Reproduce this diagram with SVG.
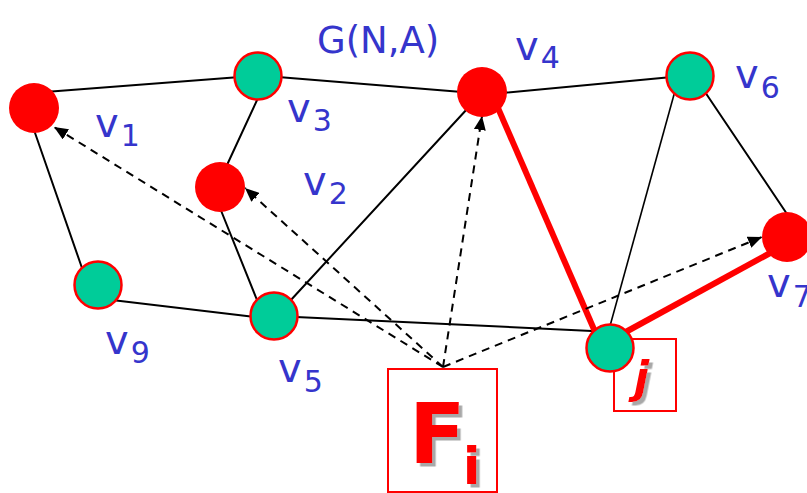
<svg xmlns="http://www.w3.org/2000/svg" width="807" height="493" viewBox="0 0 807 493">
<style>
.e{stroke:#000;stroke-width:2;fill:none;stroke-linecap:round}
.t{stroke:#000;stroke-width:1.6;fill:none}
.r{stroke:#FF0000;stroke-width:6;fill:none}
.d{stroke:#000;stroke-width:2;fill:none;stroke-dasharray:8 6}
.red{fill:#FF0000}
.grn{fill:#00CC99;stroke:#FF0000;stroke-width:2.5}
.lbl{font-family:"DejaVu Sans",Verdana,sans-serif;fill:#3535CC;font-size:40px}
.sub{font-size:30px}
.big{font-family:"DejaVu Sans",Verdana,sans-serif;fill:#FF0000;font-weight:bold}
.box{fill:none;stroke:#FF0000;stroke-width:2}
</style>
<defs>
<marker id="ah" viewBox="0 0 14 12" refX="14" refY="6" markerWidth="14" markerHeight="12" markerUnits="userSpaceOnUse" orient="auto">
<path d="M0,0 L14,6 L0,12 z" fill="#000"/>
</marker>
<filter id="sh" x="-30%" y="-30%" width="170%" height="170%">
<feDropShadow dx="3.5" dy="3.5" stdDeviation="0.6" flood-color="#A8A8A8" flood-opacity="1"/>
</filter>
</defs>
<g id="connectors">
<line class="e" x1="45" y1="92" x2="240" y2="77"/>
<line class="e" x1="278" y1="77" x2="462" y2="92"/>
<line class="e" x1="502" y1="93" x2="672" y2="77"/>
<line class="e" x1="258" y1="98" x2="227" y2="165"/>
<line class="e" x1="220" y1="208" x2="257" y2="300"/>
<line class="e" x1="34" y1="130" x2="82" y2="268"/>
<line class="e" x1="112" y1="300" x2="255" y2="317"/>
<line class="e" x1="290" y1="301" x2="468" y2="108"/>
<line class="e" x1="296" y1="317" x2="592" y2="331"/>
<line class="t" x1="675" y1="91" x2="610" y2="326"/>
<line class="e" x1="705" y1="92" x2="787" y2="214"/>
<line class="r" x1="498" y1="108" x2="596" y2="334"/>
<line class="r" x1="622" y1="334" x2="772" y2="252"/>
<line class="d" x1="443" y1="367" x2="54" y2="127" marker-end="url(#ah)"/>
<line class="d" x1="443" y1="367" x2="245" y2="188" marker-end="url(#ah)"/>
<line class="d" x1="443" y1="367" x2="482" y2="116" marker-end="url(#ah)"/>
<line class="d" x1="443" y1="367" x2="762" y2="237" marker-end="url(#ah)"/>
</g>
<g id="v1"><circle class="red" cx="34" cy="108" r="25"/><text class="lbl" x="95" y="137">v<tspan class="sub" dx="2" dy="9">1</tspan></text></g>
<g id="v2"><circle class="red" cx="220" cy="187" r="25"/><text class="lbl" x="303" y="195">v<tspan class="sub" dx="2" dy="9">2</tspan></text></g>
<g id="v3"><circle class="grn" cx="258" cy="76" r="23.5"/><text class="lbl" x="287" y="122">v<tspan class="sub" dx="2" dy="9">3</tspan></text></g>
<g id="v4"><circle class="red" cx="482" cy="92" r="25"/><text class="lbl" x="515" y="60">v<tspan class="sub" dx="2" dy="8">4</tspan></text></g>
<g id="v5"><circle class="grn" cx="274" cy="316" r="23.5"/><text class="lbl" x="278" y="382">v<tspan class="sub" dx="2" dy="10">5</tspan></text></g>
<g id="v6"><circle class="grn" cx="690" cy="76" r="23.5"/><text class="lbl" x="735" y="88">v<tspan class="sub" dx="2" dy="10">6</tspan></text></g>
<g id="v7"><circle class="red" cx="787" cy="237" r="25"/><text class="lbl" x="767" y="297">v<tspan class="sub" dx="2" dy="10">7</tspan></text></g>
<g id="v9"><circle class="grn" cx="98" cy="285" r="23.5"/><text class="lbl" x="105" y="354">v<tspan class="sub" dx="2" dy="9">9</tspan></text></g>
<g id="graph-label"><text class="lbl" x="317" y="53" style="font-size:37px">G(N,A)</text></g>
<g id="j-node">
<rect class="box" x="614" y="339" width="62" height="72"/>
<circle class="grn" cx="610" cy="348" r="23.5"/>
<text class="big" x="634" y="393" font-size="44" font-style="italic" filter="url(#sh)">j</text>
</g>
<g id="Fi">
<rect class="box" x="388" y="369" width="109" height="123"/>
<text class="big" x="409" y="463" font-size="83" filter="url(#sh)">F<tspan font-size="52" dx="-3" dy="21">i</tspan></text>
</g>
</svg>
